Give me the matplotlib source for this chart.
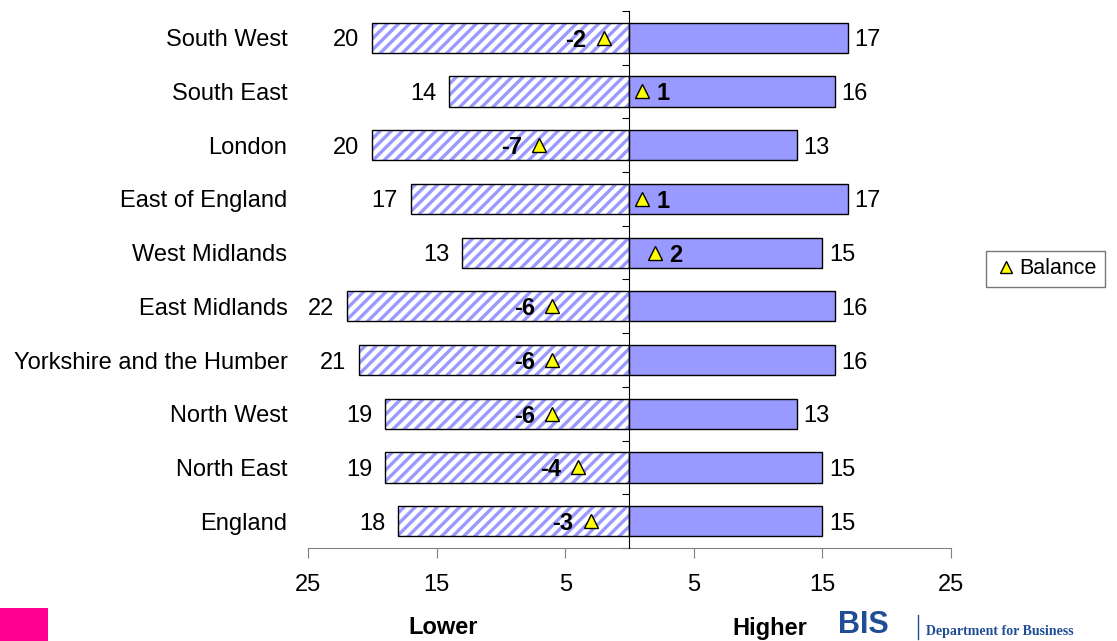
import matplotlib.pyplot as plt
import matplotlib.patches as mpatches
import matplotlib.transforms as mtransforms
import numpy as np

plt.rcParams['font.family'] = ['Liberation Sans', 'DejaVu Sans']
plt.rcParams['hatch.linewidth'] = 2.4

# Data (top to bottom)
regions = ["South West", "South East", "London", "East of England", "West Midlands",
           "East Midlands", "Yorkshire and the Humber", "North West", "North East", "England"]
lower = [20, 14, 20, 17, 13, 22, 21, 19, 19, 18]
higher = [17, 16, 13, 17, 15, 16, 16, 13, 15, 15]
balance = [-2, 1, -7, 1, 2, -6, -6, -6, -4, -3]
xticks = [-25, -15, -5, 5, 15, 25]

bar_col = '#9999FF'
fs = 17
y = np.arange(len(regions))

fig = plt.figure(figsize=(11.17, 6.41), dpi=100)
ax = fig.add_axes([0.2757, 0.145, 0.5757, 0.838])

h = 0.56
neg = -np.array(lower)
# hatched lower bars: white fill, coloured hatch, then black outline on top
ax.barh(y, neg, height=h, color='white', edgecolor=bar_col, hatch='///', linewidth=0, zorder=2)
ax.barh(y, neg, height=h, fill=False, edgecolor='black', linewidth=1, zorder=3)
ax.barh(y, higher, height=h, color=bar_col, edgecolor='black', linewidth=1, zorder=3)

ax.plot(balance, y, linestyle='none', marker='^', markersize=10, markerfacecolor='yellow',
        markeredgecolor='black', markeredgewidth=1, zorder=5, label='Balance')

va = 'center_baseline'
for yi, lo, hi, b in zip(y, lower, higher, balance):
    ax.text(-lo - 1.0, yi, str(lo), ha='right', va=va, fontsize=fs)
    ax.text(hi + 0.5, yi, str(hi), ha='left', va=va, fontsize=fs)
    if b < 0:
        ax.text(b - 1.35, yi, str(b), ha='right', va=va, fontsize=fs, fontweight='bold', zorder=6)
    else:
        ax.text(b + 1.1, yi, str(b), ha='left', va=va, fontsize=fs, fontweight='bold', zorder=6)

# category labels outside the axes
trans = mtransforms.blended_transform_factory(ax.transAxes, ax.transData)
for yi, name in zip(y, regions):
    ax.text(-0.032, yi, name, transform=trans, ha='right', va=va, fontsize=fs)

ax.set_xlim(-25, 25)
ax.set_ylim(len(regions) - 0.5, -0.5)
ax.set_xticks(xticks)
ax.set_xticklabels([str(abs(t)) for t in xticks], fontsize=fs)
ax.tick_params(axis='x', direction='out', length=7, color='#808080', pad=12)

ax.spines['left'].set_position(('data', 0))
ax.spines['left'].set_zorder(4)
ax.spines['top'].set_visible(False)
ax.spines['right'].set_visible(False)
ax.spines['bottom'].set_color('#808080')
ax.set_yticks(np.arange(-0.5, len(regions), 1.0))
ax.set_yticklabels([])
ax.tick_params(axis='y', direction='out', length=5, color='black')

ax.legend(loc='center left', bbox_to_anchor=(1.055, 0.52), frameon=True, fancybox=False,
          edgecolor='#555555', fontsize=15.5, handletextpad=0.1, borderpad=0.35,
          handlelength=1.1, numpoints=1, markerscale=0.85, borderaxespad=0)

fig.text(443 / 1117, 1 - 628 / 641, 'Lower', ha='center', va='center', fontsize=fs, fontweight='bold')
fig.text(770 / 1117, 1 - 628 / 641, 'Higher', ha='center', va='center', fontsize=fs, fontweight='bold')

# logos at the bottom edge
fig.patches.append(mpatches.Rectangle((0, 0), 48 / 1117, 33 / 641, transform=fig.transFigure,
                                      facecolor='#FF0090', edgecolor='none'))
fig.text(838 / 1117, 1 / 641, 'BIS', ha='left', va='bottom', fontsize=22, fontweight='bold', color='#1F4E96')
fig.lines.append(plt.Line2D([918 / 1117, 918 / 1117], [2 / 641, 26 / 641], transform=fig.transFigure,
                            color='#1F4E96', linewidth=1))
fig.text(926 / 1117, 3 / 641, 'Department for Business', ha='left', va='bottom', fontsize=10,
         fontweight='bold', color='#1F4E96', family='Liberation Serif')

fig.savefig('out.png', dpi=100)
